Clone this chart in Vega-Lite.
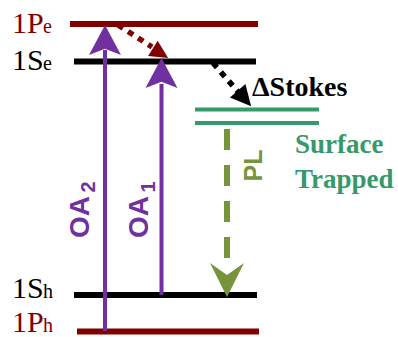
{
  "$schema": "https://vega.github.io/schema/vega-lite/v6.json",
  "width": 398,
  "height": 337,
  "padding": 0,
  "autosize": "none",
  "background": "white",
  "config": {"view": {"stroke": null}},
  "datasets": {
    "redLevels": [{"level": "1Pe", "x": 70, "x2": 258, "y": 24}, {"level": "1Ph", "x": 77, "x2": 259, "y": 331.5}],
    "blackLevels": [{"level": "1Se", "x": 74, "x2": 256, "y": 61.5}, {"level": "1Sh", "x": 74, "x2": 257, "y": 295}],
    "greenLevels": [{"level": "surface1", "x": 195, "x2": 319, "y": 109.5}, {"level": "surface2", "x": 195, "x2": 319, "y": 123}],
    "oaShafts": [{"name": "OA2", "x": 105, "y": 331, "y2": 50}, {"name": "OA1", "x": 161.5, "y": 295, "y2": 84}],
    "oaHeads": [{"name": "OA2", "x": 105, "y": 40}, {"name": "OA1", "x": 161.5, "y": 73}],
    "redDot": [{"x": 118, "y": 25, "x2": 152, "y2": 47}],
    "redHead": [{"x": 160.5, "y": 53.2}],
    "blackDot": [{"x": 213, "y": 63, "x2": 240, "y2": 94}],
    "blackHead": [{"x": 244.4, "y": 98.5}],
    "greenDash": [{"x": 227, "y": 129, "y2": 262}],
    "greenHead": [{"x": 227, "y": 280}],
    "redLabels": [{"t": "1P", "x": 12, "y": 33}, {"t": "1P", "x": 12, "y": 332}],
    "redSubs": [{"t": "e", "x": 43, "y": 33}, {"t": "h", "x": 43, "y": 332}],
    "blackLabels": [{"t": "1S", "x": 12, "y": 70}, {"t": "1S", "x": 12, "y": 298}],
    "blackSubs": [{"t": "e", "x": 43, "y": 70}, {"t": "h", "x": 43, "y": 298}],
    "stokes": [{"t": "ΔStokes", "x": 252, "y": 96}],
    "surface": [{"t": "Surface", "x": 295, "y": 153}, {"t": "Trapped", "x": 295, "y": 188}],
    "pl": [{"t": "PL", "x": 262, "y": 165.5}],
    "oaText": [{"t": "OA", "x": 89, "y": 217}, {"t": "OA", "x": 148, "y": 217}],
    "oaSubs": [{"t": "2", "x": 95, "y": 187}, {"t": "1", "x": 155, "y": 187}]
  },
  "layer": [
    {
      "data": {"name": "redLevels"},
      "mark": {"type": "rule", "color": "#800000", "strokeWidth": 6, "strokeCap": "butt"},
      "encoding": {
        "x": {"field": "x", "type": "quantitative", "scale": {"domain": [0, 398], "nice": false, "zero": false}, "axis": null},
        "x2": {"field": "x2"},
        "y": {"field": "y", "type": "quantitative", "scale": {"domain": [0, 337], "nice": false, "zero": false, "reverse": true}, "axis": null}
      }
    },
    {
      "data": {"name": "blackLevels"},
      "mark": {"type": "rule", "color": "#000000", "strokeWidth": 6, "strokeCap": "butt"},
      "encoding": {
        "x": {"field": "x", "type": "quantitative", "axis": null},
        "x2": {"field": "x2"},
        "y": {"field": "y", "type": "quantitative", "axis": null}
      }
    },
    {
      "data": {"name": "greenLevels"},
      "mark": {"type": "rule", "color": "#36996a", "strokeWidth": 4, "strokeCap": "butt"},
      "encoding": {
        "x": {"field": "x", "type": "quantitative", "axis": null},
        "x2": {"field": "x2"},
        "y": {"field": "y", "type": "quantitative", "axis": null}
      }
    },
    {
      "data": {"name": "oaShafts"},
      "mark": {"type": "rule", "color": "#7030a0", "strokeWidth": 4, "strokeCap": "butt"},
      "encoding": {
        "x": {"field": "x", "type": "quantitative", "axis": null},
        "y": {"field": "y", "type": "quantitative", "axis": null},
        "y2": {"field": "y2"}
      }
    },
    {
      "data": {"name": "oaHeads"},
      "mark": {"type": "point", "shape": "M0,-0.94L1,0.94L0,0.55L-1,0.94Z", "size": 1024, "filled": true, "opacity": 1, "color": "#7030a0", "strokeWidth": 0},
      "encoding": {
        "x": {"field": "x", "type": "quantitative", "axis": null},
        "y": {"field": "y", "type": "quantitative", "axis": null}
      }
    },
    {
      "data": {"name": "redDot"},
      "mark": {"type": "rule", "color": "#800000", "strokeWidth": 5.5, "strokeDash": [6, 6], "strokeCap": "butt"},
      "encoding": {
        "x": {"field": "x", "type": "quantitative", "axis": null},
        "y": {"field": "y", "type": "quantitative", "axis": null},
        "x2": {"field": "x2"},
        "y2": {"field": "y2"}
      }
    },
    {
      "data": {"name": "redHead"},
      "mark": {"type": "point", "shape": "M0,-1L1,1L-1,1Z", "size": 324, "angle": 122, "filled": true, "opacity": 1, "color": "#800000", "strokeWidth": 0},
      "encoding": {
        "x": {"field": "x", "type": "quantitative", "axis": null},
        "y": {"field": "y", "type": "quantitative", "axis": null}
      }
    },
    {
      "data": {"name": "blackDot"},
      "mark": {"type": "rule", "color": "#000000", "strokeWidth": 5.5, "strokeDash": [6, 6], "strokeCap": "butt"},
      "encoding": {
        "x": {"field": "x", "type": "quantitative", "axis": null},
        "y": {"field": "y", "type": "quantitative", "axis": null},
        "x2": {"field": "x2"},
        "y2": {"field": "y2"}
      }
    },
    {
      "data": {"name": "blackHead"},
      "mark": {"type": "point", "shape": "M0,-1L1,1L-1,1Z", "size": 420, "angle": 139, "filled": true, "opacity": 1, "color": "#000000", "strokeWidth": 0},
      "encoding": {
        "x": {"field": "x", "type": "quantitative", "axis": null},
        "y": {"field": "y", "type": "quantitative", "axis": null}
      }
    },
    {
      "data": {"name": "greenDash"},
      "mark": {"type": "rule", "color": "#77933c", "strokeWidth": 6, "strokeDash": [21, 15], "strokeCap": "butt"},
      "encoding": {
        "x": {"field": "x", "type": "quantitative", "axis": null},
        "y": {"field": "y", "type": "quantitative", "axis": null},
        "y2": {"field": "y2"}
      }
    },
    {
      "data": {"name": "greenHead"},
      "mark": {"type": "point", "shape": "M0,-1L1,1L0,0.3L-1,1Z", "size": 1156, "angle": 180, "filled": true, "opacity": 1, "color": "#77933c", "strokeWidth": 0},
      "encoding": {
        "x": {"field": "x", "type": "quantitative", "axis": null},
        "y": {"field": "y", "type": "quantitative", "axis": null}
      }
    },
    {
      "data": {"name": "redLabels"},
      "mark": {"type": "text", "font": "Liberation Serif", "fontSize": 30, "color": "#800000", "align": "left", "baseline": "alphabetic"},
      "encoding": {
        "x": {"field": "x", "type": "quantitative", "axis": null},
        "y": {"field": "y", "type": "quantitative", "axis": null},
        "text": {"field": "t"}
      }
    },
    {
      "data": {"name": "redSubs"},
      "mark": {"type": "text", "font": "Liberation Serif", "fontSize": 20, "color": "#800000", "align": "left", "baseline": "alphabetic"},
      "encoding": {
        "x": {"field": "x", "type": "quantitative", "axis": null},
        "y": {"field": "y", "type": "quantitative", "axis": null},
        "text": {"field": "t"}
      }
    },
    {
      "data": {"name": "blackLabels"},
      "mark": {"type": "text", "font": "Liberation Serif", "fontSize": 30, "color": "#000000", "align": "left", "baseline": "alphabetic"},
      "encoding": {
        "x": {"field": "x", "type": "quantitative", "axis": null},
        "y": {"field": "y", "type": "quantitative", "axis": null},
        "text": {"field": "t"}
      }
    },
    {
      "data": {"name": "blackSubs"},
      "mark": {"type": "text", "font": "Liberation Serif", "fontSize": 20, "color": "#000000", "align": "left", "baseline": "alphabetic"},
      "encoding": {
        "x": {"field": "x", "type": "quantitative", "axis": null},
        "y": {"field": "y", "type": "quantitative", "axis": null},
        "text": {"field": "t"}
      }
    },
    {
      "data": {"name": "stokes"},
      "mark": {"type": "text", "font": "Liberation Serif", "fontSize": 28, "fontWeight": "bold", "color": "#000000", "align": "left", "baseline": "alphabetic"},
      "encoding": {
        "x": {"field": "x", "type": "quantitative", "axis": null},
        "y": {"field": "y", "type": "quantitative", "axis": null},
        "text": {"field": "t"}
      }
    },
    {
      "data": {"name": "surface"},
      "mark": {"type": "text", "font": "Liberation Serif", "fontSize": 27, "fontWeight": "bold", "color": "#36996a", "align": "left", "baseline": "alphabetic"},
      "encoding": {
        "x": {"field": "x", "type": "quantitative", "axis": null},
        "y": {"field": "y", "type": "quantitative", "axis": null},
        "text": {"field": "t"}
      }
    },
    {
      "data": {"name": "pl"},
      "mark": {"type": "text", "font": "Liberation Sans", "fontSize": 25, "fontWeight": "bold", "color": "#77933c", "align": "center", "baseline": "alphabetic", "angle": 270},
      "encoding": {
        "x": {"field": "x", "type": "quantitative", "axis": null},
        "y": {"field": "y", "type": "quantitative", "axis": null},
        "text": {"field": "t"}
      }
    },
    {
      "data": {"name": "oaText"},
      "mark": {"type": "text", "font": "Liberation Sans", "fontSize": 28, "fontWeight": "bold", "color": "#7030a0", "align": "center", "baseline": "alphabetic", "angle": 270},
      "encoding": {
        "x": {"field": "x", "type": "quantitative", "axis": null},
        "y": {"field": "y", "type": "quantitative", "axis": null},
        "text": {"field": "t"}
      }
    },
    {
      "data": {"name": "oaSubs"},
      "mark": {"type": "text", "font": "Liberation Sans", "fontSize": 20, "fontWeight": "bold", "color": "#7030a0", "align": "center", "baseline": "alphabetic", "angle": 270},
      "encoding": {
        "x": {"field": "x", "type": "quantitative", "axis": null},
        "y": {"field": "y", "type": "quantitative", "axis": null},
        "text": {"field": "t"}
      }
    }
  ]
}
